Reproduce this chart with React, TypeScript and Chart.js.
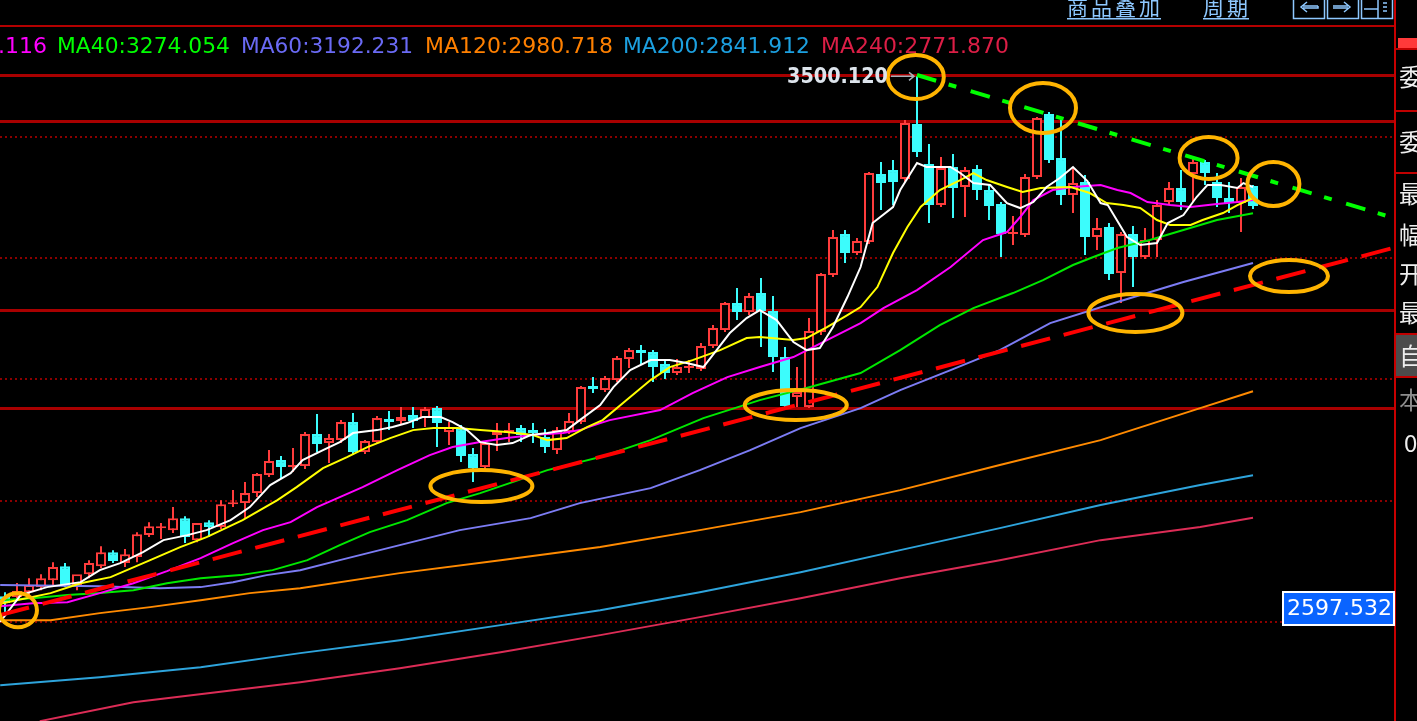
import React, { useEffect, useRef } from "react";
import { Chart, registerables } from "chart.js";
Chart.register(...registerables);

// ---------------- data ----------------
const candleOpen = [
  2642.6, 2641.0, 2649.2, 2657.5, 2669.0, 2692.1, 2660.8, 2678.9, 2692.1, 2715.2,
  2697.1, 2707.0, 2743.3, 2754.8, 2751.5, 2771.3, 2735.0, 2764.7, 2756.5, 2794.4,
  2796.1, 2812.6, 2842.3, 2867.0, 2855.5, 2857.1, 2909.9, 2895.1, 2900.0, 2929.7,
  2880.2, 2896.7, 2934.7, 2931.4, 2941.3, 2936.3, 2952.8, 2913.2, 2919.8, 2876.9,
  2855.5, 2908.3, 2911.6, 2919.8, 2916.5, 2905.0, 2883.5, 2913.2, 2929.7, 2989.1,
  2982.5, 2999.0, 3033.7, 3048.5, 3045.2, 3025.4, 3010.6, 3018.8, 3017.2, 3055.1,
  3081.5, 3126.1, 3111.2, 3142.6, 3112.9, 3037.0, 2971.0, 2954.5, 3078.2, 3172.3,
  3239.9, 3208.6, 3226.7, 3338.9, 3345.5, 3330.7, 3421.4, 3355.4, 3287.8, 3350.5,
  3317.5, 3347.2, 3312.5, 3289.4, 3239.9, 3238.3, 3334.0, 3437.9, 3365.3, 3304.3,
  3325.7, 3235.0, 3251.5, 3175.6, 3239.9, 3202.0, 3230.0, 3292.7, 3315.8, 3338.9,
  3358.7, 3325.7, 3299.3, 3291.1, 3319.1,
];
const candleHigh = [
  2649.2, 2664.1, 2672.3, 2678.9, 2698.7, 2697.1, 2674.0, 2702.0, 2725.1, 2718.5,
  2720.2, 2748.2, 2764.7, 2763.1, 2789.5, 2774.6, 2763.1, 2768.0, 2801.0, 2817.5,
  2830.7, 2845.6, 2883.5, 2873.6, 2886.8, 2913.2, 2942.9, 2909.9, 2933.0, 2944.6,
  2900.0, 2939.6, 2947.9, 2954.5, 2954.5, 2954.5, 2956.1, 2929.7, 2924.8, 2886.8,
  2896.7, 2928.1, 2928.1, 2924.8, 2928.1, 2918.2, 2921.5, 2944.6, 2989.1, 3004.0,
  3005.6, 3038.6, 3051.8, 3056.8, 3048.5, 3033.7, 3033.7, 3032.0, 3060.1, 3089.8,
  3127.7, 3150.8, 3142.6, 3167.3, 3137.6, 3053.5, 3020.5, 3101.3, 3175.6, 3246.5,
  3246.5, 3233.3, 3342.2, 3358.7, 3362.0, 3428.0, 3500.1, 3388.4, 3367.0, 3371.9,
  3350.5, 3353.8, 3320.8, 3292.7, 3269.6, 3338.9, 3433.0, 3441.2, 3428.0, 3350.5,
  3337.3, 3266.3, 3258.1, 3243.2, 3253.1, 3249.8, 3296.0, 3325.7, 3345.5, 3365.3,
  3362.0, 3340.6, 3325.7, 3332.3, 3320.8,
];
const candleLow = [
  2614.6, 2636.0, 2644.3, 2652.5, 2660.8, 2657.5, 2652.5, 2672.3, 2688.8, 2697.1,
  2690.5, 2698.7, 2740.0, 2736.7, 2746.6, 2730.1, 2731.7, 2740.0, 2753.2, 2789.5,
  2771.3, 2806.0, 2839.0, 2835.7, 2847.2, 2852.2, 2880.2, 2862.1, 2895.1, 2875.3,
  2876.9, 2893.4, 2916.5, 2924.8, 2919.8, 2921.5, 2888.5, 2891.8, 2863.7, 2830.7,
  2852.2, 2881.9, 2896.7, 2896.7, 2895.1, 2878.6, 2876.9, 2909.9, 2926.4, 2977.6,
  2979.2, 2995.7, 3018.8, 3025.4, 2995.7, 3000.7, 3007.3, 3010.6, 3013.9, 3051.8,
  3078.2, 3098.0, 3106.3, 3053.5, 3012.2, 2954.5, 2954.5, 2952.8, 3073.3, 3169.0,
  3192.1, 3205.3, 3223.4, 3279.5, 3287.8, 3325.7, 3367.0, 3258.1, 3284.5, 3266.3,
  3268.0, 3296.0, 3263.0, 3202.0, 3221.8, 3235.0, 3330.7, 3357.1, 3287.8, 3274.6,
  3205.3, 3213.5, 3164.0, 3126.1, 3152.5, 3198.7, 3202.0, 3287.8, 3279.5, 3292.7,
  3320.8, 3284.5, 3274.6, 3243.2, 3281.2,
];
const candleClose = [
  2631.1, 2650.9, 2660.8, 2672.3, 2690.5, 2660.8, 2678.9, 2697.1, 2715.2, 2700.4,
  2711.9, 2744.9, 2758.1, 2756.5, 2771.3, 2740.0, 2763.1, 2756.5, 2794.4, 2796.1,
  2812.6, 2843.9, 2865.4, 2855.5, 2858.8, 2909.9, 2893.4, 2903.3, 2929.7, 2880.2,
  2898.4, 2936.3, 2929.7, 2938.0, 2931.4, 2951.2, 2928.1, 2921.5, 2873.6, 2853.8,
  2895.1, 2914.9, 2916.5, 2908.3, 2911.6, 2888.5, 2916.5, 2931.4, 2987.5, 2984.2,
  3002.3, 3035.3, 3048.5, 3043.6, 3020.5, 3010.6, 3020.5, 3022.1, 3055.1, 3084.8,
  3126.1, 3111.2, 3137.6, 3112.9, 3037.0, 2956.1, 2979.2, 3079.9, 3173.9, 3235.0,
  3208.6, 3228.4, 3340.6, 3324.1, 3325.7, 3423.1, 3375.2, 3287.8, 3348.8, 3315.8,
  3345.5, 3312.5, 3286.1, 3239.9, 3241.6, 3334.0, 3431.3, 3362.0, 3304.3, 3324.1,
  3235.0, 3249.8, 3173.9, 3239.9, 3202.0, 3230.0, 3287.8, 3315.8, 3292.7, 3358.7,
  3340.6, 3299.3, 3291.1, 3317.5, 3286.1,
];

// moving-average lines: [candle index, price]
const ma5Line = [[-0.4,2600.0],[1.3,2644.3],[3.5,2657.5],[6.3,2665.7],[7.9,2685.5],[9.6,2697.1],[11.5,2715.2],[13.2,2735],[15.2,2743.3],[16.8,2751.5],[18.8,2768],[20.4,2789.5],[22.1,2825.8],[23.8,2845.6],[24.8,2867],[26.5,2883.5],[27.9,2896.7],[29,2911.6],[31,2916.5],[32.3,2921.5],[33.5,2928.1],[34.8,2938],[36.3,2938],[37.3,2929.7],[38.5,2916.5],[39.6,2896.7],[41,2891.8],[42.3,2895.1],[43.8,2908.3],[45.2,2911.6],[46.8,2916.5],[47.9,2933],[49.6,2957.8],[50.7,2987.5],[52.1,3015.5],[53.8,3032],[55.4,3032],[56.8,3027.1],[58.2,3020.5],[59.3,3048.5],[60.4,3076.6],[61.8,3101.3],[62.9,3114.5],[64.3,3098],[65.7,3061.7],[66.8,3048.5],[67.9,3051.8],[69,3086.5],[70.2,3136],[71.3,3185.5],[72.3,3258],[74,3284.5],[74.6,3312.5],[76,3357],[76.8,3350.5],[78.8,3350.5],[79.6,3340.6],[80.7,3324],[82.1,3320.8],[83.5,3291],[84.6,3282.8],[85.7,3292.7],[86.8,3317.5],[87.9,3332.3],[89,3350.5],[90.2,3327.4],[91.3,3291],[91.9,3287.8],[93.5,3235],[94.6,3221.8],[96,3225],[96.9,3258],[98.2,3271.3],[99.3,3301],[100.2,3320.8],[101.3,3320.8],[102.7,3315.8],[103.2,3324],[104,3317.5]];
const ma10Line = [[-0.4,2630.0],[3.8,2647.6],[6.3,2664],[8.8,2674],[12.1,2702],[14.6,2723.5],[16.8,2740],[19.8,2768],[22.7,2801],[24.3,2822.5],[26.5,2853.8],[28.5,2872],[30.2,2888.5],[32.1,2903.3],[34,2916.5],[35.7,2919.8],[37.7,2919.8],[39.6,2916.5],[41.8,2913.2],[44,2908.3],[45.2,2900],[46.8,2903.3],[48.5,2921.5],[49.8,2933],[51.8,2966],[53.8,2999],[55.4,3020.5],[57.3,3032],[59.6,3048.5],[61.8,3068.3],[62.9,3070],[65.7,3065],[66.8,3068.3],[68.5,3086.5],[70.2,3106.3],[71.3,3119.5],[72.7,3152.5],[74,3208.6],[75.2,3251.5],[76.3,3284.5],[77.9,3312.5],[79.6,3329],[80.7,3340.6],[81.8,3329],[83.5,3317.5],[84.8,3309.2],[86.3,3315.8],[88.8,3317.5],[90.4,3307.6],[91.8,3291],[93.2,3287.8],[94.6,3282.8],[96,3263],[97.1,3254.8],[98.8,3254.8],[99.8,3263],[101.5,3274.6],[102.7,3287.8],[104,3299.3]];
const ma20Line = [[-0.4,2626.0],[2.3,2631],[5.2,2632.7],[7.9,2647.6],[10.7,2664],[13.5,2683.9],[16.3,2705.3],[19,2730.1],[21.5,2751.5],[23.8,2764.7],[26,2789.5],[27.9,2806],[29.8,2822.5],[32.7,2850.5],[35.4,2875.3],[37.3,2888.5],[39.6,2896.7],[41.8,2903.3],[44,2908.3],[46.5,2911.6],[47.9,2916.5],[49.6,2928],[50.4,2933],[54.6,2949.5],[57.3,2977.6],[60.2,3004],[62.9,3020.5],[65.7,3037],[68.5,3065],[71.3,3093],[73.2,3117.8],[76,3147.5],[78.8,3185.5],[81.5,3230],[83.5,3243.2],[84.6,3268],[85.7,3296],[87.3,3312.5],[89,3317.5],[91.3,3320.8],[92.7,3312.5],[93.8,3307.6],[95.2,3292.7],[97.1,3287.8],[98.8,3284.5],[101,3289.4],[102.7,3292.7],[104,3296.1]];
const ma40Line = [[-0.4,2636],[2.3,2639.3],[5.2,2644.3],[7.9,2647.6],[10.7,2652.5],[13.5,2664],[16.3,2672.3],[19.6,2677.3],[22.3,2685.5],[25.2,2702],[27.9,2726.8],[30.4,2748.2],[33.5,2768],[36.8,2796.1],[39.6,2812.6],[42.3,2830.7],[45.2,2850.5],[47.9,2863.7],[49.6,2872],[53.8,2900],[58.2,2936.3],[62.9,2966],[67.1,2987.5],[71.3,3010.6],[74.6,3048.5],[77.9,3089.8],[80.7,3117.8],[84,3142.6],[86.5,3164],[89,3188.8],[90.7,3202],[92.7,3216.8],[95.4,3230],[98.2,3246.5],[101,3263],[104,3274.1]];
const ma60Line = [[-0.4,2660.8],[7.9,2659],[12.9,2655.8],[16.3,2657.5],[19,2665.7],[21.8,2677.3],[24.6,2685.5],[27.9,2702],[32.9,2726.8],[37.9,2751.5],[43.8,2771.3],[47.9,2796.1],[53.8,2820.8],[57.9,2850.5],[62.1,2883.5],[66.3,2919.8],[71.3,2952.8],[74.6,2982.5],[78.8,3015.5],[82.9,3048.5],[87.1,3093],[92.7,3127.7],[98.2,3160.7],[104,3192.2]];
const ma120Line = [[-0.4,2603],[3.8,2603],[7.9,2614.6],[12.1,2624.5],[16.3,2636],[20.4,2647.6],[24.6,2655.8],[32.9,2680.6],[41.3,2702],[49.6,2723.5],[57.9,2751.5],[66.3,2781.2],[74.6,2817.5],[82.9,2858.8],[91.3,2900],[99.6,2952.8],[104,2980.7]];
const ma200Line = [[-0.4,2495.8],[7.9,2509],[16.3,2525.5],[24.6,2548.6],[32.9,2570],[41.3,2594.8],[49.6,2619.5],[57.9,2649.2],[66.3,2682.2],[74.6,2718.5],[82.9,2754.8],[91.3,2792.8],[99.6,2825.8],[104,2841.9]];
const ma240Line = [[2.9,2436.4],[10.7,2467.7],[19,2487.5],[24.6,2500.7],[32.9,2523.8],[41.3,2550.2],[49.6,2578.3],[57.9,2608],[66.3,2639.3],[74.6,2672.3],[82.9,2702],[91.3,2735],[99.6,2756.5],[104,2771.9]];

// legend
const legendNames = ["MA20", "MA40", "MA60", "MA120", "MA200", "MA240"];
const legendValues = ["3296.116", "3274.054", "3192.231", "2980.718", "2841.912", "2771.870"];

// drawn trend lines: [index, price] end points
const supportTrend = [[-0.42, 2611.3], [115.75, 3217.3]];
const resistTrend = [[76.0, 3502.3], [115.75, 3266.3]];
// horizontal drawn levels and grid ticks
const levelLines = [3502.3, 3426.4, 3114.6, 2952.9];
const gridTicks = [3400, 3200, 3000, 2800, 2600];
// highlight ellipses: centre [index, price]
const ellipseCentres = [[1.08, 2619.5], [39.7, 2824.1], [65.9, 2957.8], [75.9, 3499.0], [86.5, 3447.8], [100.3, 3365.3], [105.7, 3322.4], [107.0, 3170.6], [94.2, 3109.6]];
const ellipseRadii = [[19, 17], [51, 16], [51, 15], [28, 22], [33, 25], [29, 21], [26, 22], [39, 16], [47, 19]];
const highLabel = "3500.120";
const highValue = 3500.12;
const cursorLabel = "2597.532";
const headerButtons = ["商品叠加", "周期"];
const panelChars = ["委", "委", "最", "幅", "开", "最", "自", "本", "0"];

// ---------------- styles ----------------
const UP = "#ff3c3c";
const DOWN = "#3cfcfc";
const MA_COLORS = ["#ffffff", "#ffff00", "#ff00ff", "#00e800", "#7c7cf4", "#ff8a00", "#2ea4dc", "#dc2c56"];
const LEGEND_COLORS = ["#ff00ff", "#00ff00", "#6a6af4", "#ff8000", "#1ca0e0", "#dc1e46"];

export default function App() {
  const ref = useRef<HTMLCanvasElement>(null);
  useEffect(() => {
    document.body.style.margin = "0";
    document.body.style.background = "#000";
    const canvas = ref.current!;
    const n = candleOpen.length;
    const ids = Array.from({ length: n }, (_, i) => i);
    const colors = ids.map((i) => (candleClose[i] >= candleOpen[i] ? UP : DOWN));
    const bodyBg = ids.map((i) => (candleClose[i] >= candleOpen[i] ? "#000000" : DOWN));
    const pts = (a: number[][]) => a.map(([x, y]) => ({ x, y }));
    const maLines = [ma5Line, ma10Line, ma20Line, ma40Line, ma60Line, ma120Line, ma200Line, ma240Line];

    const datasets: any[] = [
      {
        type: "bar",
        data: ids.map((i) => ({ x: i, y: [candleLow[i], candleHigh[i]] })),
        backgroundColor: colors,
        borderWidth: 0,
        barThickness: 2,
        grouped: false,
        inflateAmount: 0,
        order: 30,
      },
      {
        type: "bar",
        data: ids.map((i) => ({ x: i, y: [candleOpen[i], candleClose[i]] })),
        backgroundColor: bodyBg,
        borderColor: colors,
        borderWidth: 2,
        borderSkipped: false,
        barThickness: 10,
        minBarLength: 2,
        grouped: false,
        inflateAmount: 0,
        order: 29,
      },
      ...maLines.map((l, k) => ({
        type: "line",
        data: pts(l),
        borderColor: MA_COLORS[k],
        borderWidth: 2,
        pointRadius: 0,
        tension: 0,
        fill: false,
        order: 10 + k,
      })),
      {
        type: "line",
        data: pts(supportTrend),
        borderColor: "#ff0000",
        borderWidth: 4,
        borderDash: [30, 14],
        pointRadius: 0,
        fill: false,
        order: 2,
      },
      {
        type: "line",
        data: pts(resistTrend),
        borderColor: "#00ff00",
        borderWidth: 4,
        borderDash: [20, 13, 8, 15],
        pointRadius: 0,
        fill: false,
        order: 1,
      },
    ];

    const bgPlugin = {
      id: "bg",
      beforeDraw(chart: any) {
        const c = chart.ctx;
        c.save();
        c.fillStyle = "#000";
        c.fillRect(0, 0, chart.width, chart.height);
        c.restore();
      },
      beforeDatasetsDraw(chart: any) {
        const c = chart.ctx;
        const ys = chart.scales.y;
        c.save();
        c.strokeStyle = "#8c0000";
        c.lineWidth = 2;
        c.setLineDash([2, 3]);
        gridTicks.forEach((v) => {
          const py = Math.round(ys.getPixelForValue(v));
          c.beginPath();
          c.moveTo(0, py);
          c.lineTo(1394, py);
          c.stroke();
        });
        c.setLineDash([]);
        c.strokeStyle = "#a80000";
        c.lineWidth = 3;
        levelLines.forEach((v) => {
          const py = Math.round(ys.getPixelForValue(v)) + 0.5;
          c.beginPath();
          c.moveTo(0, py);
          c.lineTo(1394, py);
          c.stroke();
        });
        c.restore();
      },
      afterDatasetsDraw(chart: any) {
        const c = chart.ctx;
        const xs = chart.scales.x;
        const ys = chart.scales.y;
        c.save();
        // ellipses
        c.strokeStyle = "#ffb400";
        c.lineWidth = 4;
        ellipseCentres.forEach(([ix, p], k) => {
          c.beginPath();
          c.ellipse(xs.getPixelForValue(ix), ys.getPixelForValue(p), ellipseRadii[k][0], ellipseRadii[k][1], 0, 0, Math.PI * 2);
          c.stroke();
        });
        // high label with arrow
        const hy = ys.getPixelForValue(highValue);
        const hx = xs.getPixelForValue(76);
        c.strokeStyle = "#a8b0b8";
        c.lineWidth = 1.5;
        c.beginPath();
        c.moveTo(hx - 26, hy);
        c.lineTo(hx - 3, hy);
        c.moveTo(hx - 8, hy - 4);
        c.lineTo(hx - 3, hy);
        c.lineTo(hx - 8, hy + 4);
        c.stroke();
        c.fillStyle = "#dde4ec";
        c.font = "bold 21px 'DejaVu Sans'";
        c.textAlign = "right";
        c.textBaseline = "middle";
        c.fillText(highLabel, hx - 29, hy + 1, 101);
        c.restore();
      },
      afterDraw(chart: any) {
        const c = chart.ctx;
        c.save();
        // header
        c.fillStyle = "#000";
        c.fillRect(0, 0, 1417, 25);
        c.fillStyle = "#b40000";
        c.fillRect(0, 25, 1395, 2);
        c.fillStyle = "#8ec8ff";
        c.strokeStyle = "#8ec8ff";
        c.font = "21px 'Noto Sans CJK SC'";
        c.textAlign = "left";
        c.textBaseline = "alphabetic";
        const btnX = [1067, 1203];
        headerButtons.forEach((t, k) => {
          Array.from(t).forEach((ch, j) => c.fillText(ch, btnX[k] + j * 24, 15));
          c.fillRect(btnX[k], 18, t.length * 24 - 2, 1.5);
        });
        c.lineWidth = 1.5;
        [1293, 1327, 1361].forEach((bx) => c.strokeRect(bx + 0.5, -2, 31, 20.5));
        c.beginPath();
        c.moveTo(1318, 6); c.lineTo(1303, 6); c.moveTo(1307, 2); c.lineTo(1301, 7); c.lineTo(1307, 12); c.moveTo(1303, 8); c.lineTo(1318, 8); c.lineTo(1318, 6);
        c.moveTo(1333, 6); c.lineTo(1348, 6); c.moveTo(1344, 2); c.lineTo(1350, 7); c.lineTo(1344, 12); c.moveTo(1348, 8); c.lineTo(1333, 8);
        c.moveTo(1378, 0); c.lineTo(1378, 18); c.moveTo(1364, 9); c.lineTo(1378, 9);
        c.moveTo(1383, 3); c.lineTo(1387, 3); c.moveTo(1383, 7); c.lineTo(1387, 7); c.moveTo(1383, 11); c.lineTo(1387, 11);
        c.stroke();

        // legend
        c.font = "22px 'DejaVu Sans'";
        c.textBaseline = "middle";
        const lx = [47, 57, 241, 425, 623, 821];
        const lw = [0, 173, 172, 188, 187, 188];
        legendNames.forEach((nm, k) => {
          c.fillStyle = LEGEND_COLORS[k];
          const txt = nm + ":" + legendValues[k];
          if (k === 0) {
            c.textAlign = "right";
            c.fillText(txt, lx[k], 47);
          } else {
            c.textAlign = "left";
            c.fillText(txt, lx[k], 47, lw[k]);
          }
        });

        // right panel
        c.fillStyle = "#000";
        c.fillRect(1396, 0, 21, 721);
        c.fillStyle = "#c80000";
        c.fillRect(1394, 0, 2, 721);
        c.fillStyle = "#ff3a3a";
        c.fillRect(1398, 38, 19, 10);
        c.fillStyle = "#c00000";
        [48, 110, 172, 333, 376].forEach((y) => c.fillRect(1396, y, 21, 2));
        c.fillStyle = "#4c4c4c";
        c.fillRect(1396, 335, 21, 41);
        const cy = [77, 142, 194, 235, 274, 313, 356, 400, 443];
        c.font = "24px 'Noto Sans CJK SC'";
        c.textAlign = "left";
        c.textBaseline = "middle";
        panelChars.forEach((ch, k) => {
          c.fillStyle = k === 7 ? "#8c8c8c" : "#eeeeee";
          c.fillText(ch, ch === "0" ? 1404 : 1399, cy[k]);
        });

        // cursor price box
        c.fillStyle = "#ffffff";
        c.fillRect(1282, 591, 113, 35);
        c.fillStyle = "#0a64ff";
        c.fillRect(1284, 593, 109, 31);
        c.fillStyle = "#ffffff";
        c.font = "22px 'DejaVu Sans'";
        c.textAlign = "left";
        c.textBaseline = "middle";
        c.fillText(cursorLabel, 1287, 609, 105);
        c.restore();
      },
    };

    const chart = new Chart(canvas, {
      type: "bar",
      data: { datasets },
      options: {
        responsive: false,
        animation: false,
        events: [],
        layout: { padding: 0 },
        plugins: { legend: { display: false }, tooltip: { enabled: false } },
        scales: {
          x: { type: "linear", min: -5 / 12, max: (1417 - 5) / 12, display: false, offset: false },
          y: { type: "linear", min: 2436.65, max: 3626, display: false },
        },
      },
      plugins: [bgPlugin],
    } as any);
    return () => chart.destroy();
  }, []);
  return (
    <div style={{ position: "fixed", left: 0, top: 0, width: 1417, height: 721, background: "#000" }}>
      <canvas ref={ref} width={1417} height={721} style={{ display: "block" }} />
    </div>
  );
}
